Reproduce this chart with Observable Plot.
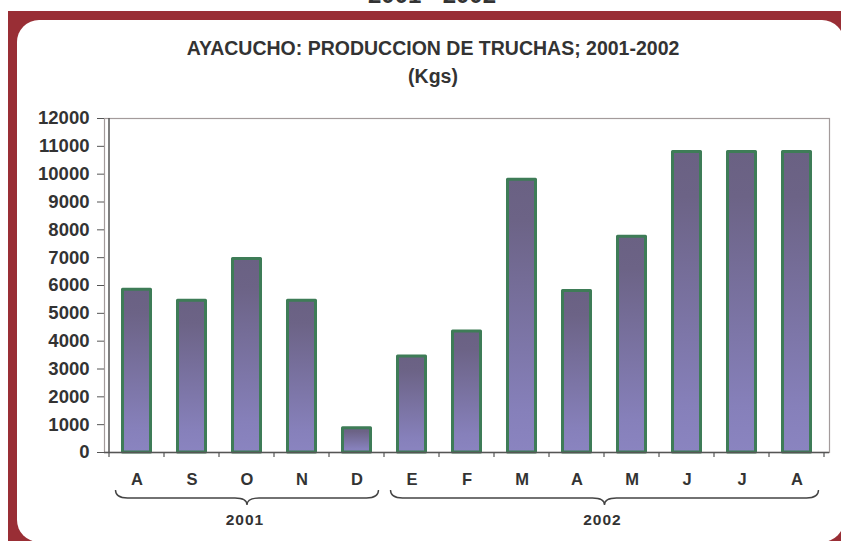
<!DOCTYPE html>
<html>
<head>
<meta charset="utf-8">
<script src="https://cdn.jsdelivr.net/npm/d3@7"></script>
<script src="https://cdn.jsdelivr.net/npm/@observablehq/plot@0.6"></script>
<style>
  html, body { margin: 0; padding: 0; background: #fff; overflow: hidden; }
  #wrap { position: relative; width: 841px; height: 541px; overflow: hidden; font-family: "Liberation Sans", Arial, sans-serif; }
  #red { position: absolute; left: 8px; top: 11px; right: -20px; bottom: -20px; background: #992E35; }
  #panel { position: absolute; left: 17px; top: 20px; width: 827px; height: 522px; background: #fff; border-radius: 22px; }
  .t { position: absolute; left: 0; width: 866px; text-align: center; font-weight: bold; color: #333; white-space: nowrap; }
  #chart { position: absolute; left: 0; top: 0; }
</style>
</head>
<body>
<div id="wrap">
  <div class="t" style="top:-17px; font-size:24px; line-height:24px; width:864px;">2001 - 2002</div>
  <div id="red"></div>
  <div id="panel"></div>
  <div class="t" id="title" style="top:38px; font-size:19.5px; line-height:20px; letter-spacing:0px;">AYACUCHO: PRODUCCION DE TRUCHAS; 2001-2002</div>
  <div class="t" id="sub" style="top:66px; font-size:19.5px; line-height:20px; letter-spacing:0px;">(Kgs)</div>
  <div id="chart"></div>
</div>
<script>
// ---- data ----
const months = ["A","S","O","N","D","E","F","M","A","M","J","J","A"];
const production = [5850, 5450, 6950, 5450, 870, 3450, 4350, 9800, 5800, 7750, 10800, 10800, 10800];
const yTicks = [0,1000,2000,3000,4000,5000,6000,7000,8000,9000,10000,11000,12000];
const years = ["2001", "2002"];
const yearFirst = [0, 5];
const yearLast = [4, 12];

const data = months.map((m, i) => ({i, m, v: production[i]}));
const idx = data.map(d => d.i);

const chart = Plot.plot({
  width: 841,
  height: 541,
  marginLeft: 104,
  marginRight: 12,
  marginTop: 118,
  marginBottom: 89,
  style: {background: "transparent", fontFamily: "'Liberation Sans', Arial, sans-serif", overflow: "visible"},
  x: {type: "band", domain: idx, padding: 0},
  y: {domain: [0, 12000]},
  marks: [
    Plot.frame({stroke: "#a39b9b", strokeWidth: 1.2}),
    Plot.barY(data, {x: "i", y: "v", fill: "url(#barGrad)", stroke: "#3E7C57", strokeWidth: 3, strokeLinejoin: "round", insetLeft: 13.5, insetRight: 13.5}),
    Plot.axisY({ticks: yTicks, label: null, tickSize: 7, tickPadding: 8, tickFormat: d => String(d), fontSize: 18.5, fontWeight: "bold", fill: "#333", stroke: "#555"}),
    Plot.axisX({label: null, tickSize: 0, tickPadding: 21, tickFormat: i => months[i], fontSize: 16.5, fontWeight: "bold", fill: "#333"}),
    Plot.ruleY([0], {stroke: "#555", strokeWidth: 1.5})
  ]
});
document.getElementById("chart").appendChild(chart);

const svg = d3.select(chart);
const defs = svg.insert("defs", ":first-child");
const g = defs.append("linearGradient").attr("id", "barGrad").attr("x1", 0).attr("y1", 0).attr("x2", 0).attr("y2", 1);
g.append("stop").attr("offset", "0").attr("stop-color", "#6A6183");
g.append("stop").attr("offset", "0.15").attr("stop-color", "#6C6386");
g.append("stop").attr("offset", "0.85").attr("stop-color", "#8680BA");
g.append("stop").attr("offset", "1").attr("stop-color", "#8A84C0");

const xs = chart.scale("x");
const ys = chart.scale("y");
const y0 = ys.apply(0), y1 = ys.apply(12000);
const step = xs.step;
const left = xs.apply(0);
const extra = svg.append("g");
// left axis line
extra.append("line").attr("x1", left).attr("x2", left).attr("y1", y1).attr("y2", y0)
  .attr("stroke", "#555").attr("stroke-width", 1.5);
// boundary ticks on x
for (let k = 0; k <= months.length; k++) {
  const xb = k < months.length ? xs.apply(k) : xs.apply(months.length - 1) + step;
  extra.append("line").attr("x1", xb).attr("x2", xb).attr("y1", y0).attr("y2", y0 + 5)
    .attr("stroke", "#555").attr("stroke-width", 1.2);
}
// braces and year labels
years.forEach((yr, j) => {
  const a = xs.apply(yearFirst[j]) + step / 2 - 21;
  const b = xs.apply(yearLast[j]) + step / 2 + 22;
  const m = (a + b) / 2;
  const top = y0 + 38, mid = y0 + 46, tip = y0 + 53, q = 12;
  const p = `M${a},${top} Q${a},${mid} ${a + q},${mid} L${m - q},${mid} Q${m},${mid} ${m},${tip} Q${m},${mid} ${m + q},${mid} L${b - q},${mid} Q${b},${mid} ${b},${top}`;
  extra.append("path").attr("d", p).attr("fill", "none").attr("stroke", "#444").attr("stroke-width", 1.4);
  extra.append("text").attr("x", m - 2).attr("y", y0 + 73).attr("text-anchor", "middle")
    .attr("font-size", 15.5).attr("font-weight", "bold").attr("letter-spacing", "1px").attr("fill", "#333").text(yr);
});
</script>
</body>
</html>
